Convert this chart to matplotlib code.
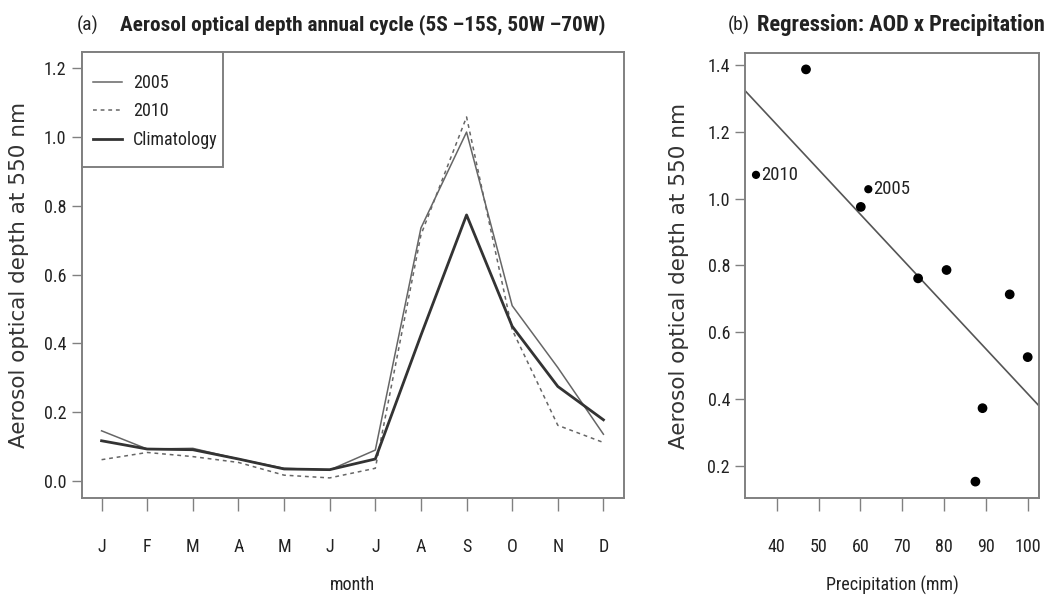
import numpy as np
import matplotlib
matplotlib.use("Agg")
import matplotlib.pyplot as plt
from matplotlib.patches import Rectangle

# --- data ---
months = ["J", "F", "M", "A", "M", "J", "J", "A", "S", "O", "N", "D"]
aod_2005 = [0.146, 0.093, 0.095, 0.064, 0.037, 0.032, 0.090, 0.736, 1.015, 0.510, 0.330, 0.136]
aod_2010 = [0.062, 0.083, 0.071, 0.054, 0.017, 0.009, 0.037, 0.716, 1.059, 0.440, 0.162, 0.112]
aod_clim = [0.117, 0.093, 0.091, 0.064, 0.035, 0.033, 0.064, 0.424, 0.774, 0.450, 0.275, 0.178]

precip = [35.05, 47.0, 60.1, 61.9, 73.8, 80.6, 87.5, 89.2, 95.7, 100.0]
aod_year = [1.071, 1.387, 0.975, 1.028, 0.761, 0.786, 0.152, 0.372, 0.713, 0.525]
point_labels = ["2010", "", "", "2005", "", "", "", "", "", ""]

# condensed sans for the squeezed Helvetica look of the original
plt.rcParams["font.family"] = ["Roboto Condensed", "Liberation Sans", "DejaVu Sans"]
WIDE = ["DejaVu Sans"]
TXT = "#222222"
BOX = "#808080"


def style_axes(ax):
    for s in ax.spines.values():
        s.set_color(BOX)
        s.set_linewidth(1.4)
    ax.tick_params(axis="x", length=9.4, width=1.0, color=BOX, pad=19.5,
                   labelsize=13, labelcolor=TXT)
    ax.tick_params(axis="y", length=7.2, width=1.0, color=BOX, pad=3.6,
                   labelsize=13, labelcolor=TXT)


fig = plt.figure(figsize=(10.51, 5.98), dpi=100)

# --- (a) annual cycle ---
ax1 = fig.add_axes([0.07755, 0.16806, 0.5157, 0.745])
x = np.arange(1, 13)
ax1.plot(x, aod_2005, color="#666666", lw=1.1, label="2005")
ax1.plot(x, aod_2010, color="#666666", lw=1.1, ls=(0, (2.5, 2.5)), label="2010")
ax1.plot(x, aod_clim, color="#333333", lw=2.0, label="Climatology")
ax1.set_xlim(1 - 0.44, 12 + 0.44)
ax1.set_ylim(-0.048, 1.248)
ax1.set_xticks(x)
ax1.set_xticklabels(months)
yt1 = np.arange(0, 1.21, 0.2)
ax1.set_yticks(yt1)
ax1.set_yticklabels([f"{v:.1f}" for v in yt1])
style_axes(ax1)
ax1.set_xlabel("month", fontsize=13, color=TXT, va="center")
ax1.xaxis.set_label_coords(0.5, -0.196)
ax1.set_ylabel("Aerosol optical depth at 550 nm", fontsize=15.5, color="#333333",
               family=WIDE, va="center")
ax1.yaxis.set_label_coords(-0.1153, 0.5)

# legend box in the top-left corner, like R's legend("topleft")
ax1.add_patch(Rectangle((0, 0.7425), 0.2605, 0.2575, transform=ax1.transAxes,
                        facecolor="white", edgecolor=BOX, lw=1.4, zorder=5,
                        clip_on=False))
leg = ax1.legend(loc="upper left", bbox_to_anchor=(0.0212, 0.951),
                 borderaxespad=0, borderpad=0, frameon=False, fontsize=13,
                 handlelength=1.6, labelspacing=0.59, handletextpad=0.6)
leg.set_zorder(6)
for t in leg.get_texts():
    t.set_color(TXT)

fig.text(0.0733, 0.958, "(a)", fontsize=14, color=TXT, va="center")
fig.text(0.1142, 0.958, "Aerosol optical depth annual cycle (5S \u201315S, 50W \u201370W)",
         fontsize=15.3, fontweight="bold", color=TXT, va="center")

# --- (b) regression ---
ax2 = fig.add_axes([0.70885, 0.16672, 0.27973, 0.74515])
sizes = [24 if lab else 36 for lab in point_labels]
ax2.scatter(precip, aod_year, s=sizes, color="black", zorder=3)
slope, intercept = np.polyfit(precip, aod_year, 1)
xl = (32.42, 102.7)
ax2.plot(xl, [intercept + slope * v for v in xl], color="#555555", lw=1.2)
for px, py, lab in zip(precip, aod_year, point_labels):
    if lab:
        ax2.annotate(lab, (px, py), xytext=(3.5, 0), textcoords="offset points",
                     fontsize=13.5, color=TXT, va="center", ha="left")
ax2.set_xlim(xl)
ax2.set_ylim(0.102, 1.437)
ax2.set_xticks(np.arange(40, 101, 10))
yt2 = np.arange(0.2, 1.41, 0.2)
ax2.set_yticks(yt2)
ax2.set_yticklabels([f"{v:.1f}" for v in yt2])
style_axes(ax2)
ax2.set_xlabel("Precipitation (mm)", fontsize=13, color=TXT, va="center")
ax2.xaxis.set_label_coords(0.5, -0.1946)
ax2.set_ylabel("Aerosol optical depth at 550 nm", fontsize=15.5, color="#333333",
               family=WIDE, va="center")
ax2.yaxis.set_label_coords(-0.2245, 0.5)
fig.text(0.6927, 0.958, "(b)", fontsize=14, color=TXT, va="center")
fig.text(0.7203, 0.958, "Regression: AOD x Precipitation",
         fontsize=16.2, fontweight="bold", color=TXT, va="center")

fig.savefig("out.png", dpi=100)
